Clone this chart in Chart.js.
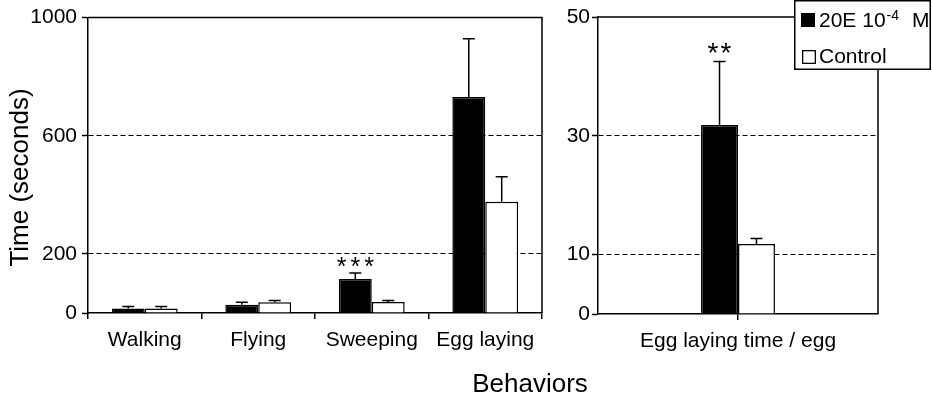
<!DOCTYPE html>
<html><head><meta charset="utf-8">
<script src="https://cdn.jsdelivr.net/npm/chart.js@4"></script>
<style>
html,body{margin:0;padding:0;background:#fff;}
#wrap{position:relative;width:932px;height:400px;overflow:hidden;background:#fff;}
canvas{position:absolute;top:0;}
</style></head><body>
<div id="wrap">
<canvas id="c1" width="932" height="400" style="left:0"></canvas>
<canvas id="c2" width="372" height="400" style="left:560px"></canvas>
</div>
<script>
const FONT = '"Liberation Sans", Arial, sans-serif';

// Left panel
const categories = ['Walking', 'Flying', 'Sweeping', 'Egg laying'];
const treated = [15, 28, 115, 731];
const treatedErr = [7, 8, 20, 197];
const control = [15, 36, 37, 377];
const controlErr = [7, 6, 5, 84];
const leftSig = ['', '', '***', ''];
const leftTicks = [0, 200, 600, 1000];

// Right panel
const rightCategories = ['Egg laying time / egg'];
const rightTreated = [31.8];
const rightTreatedErr = [10.7];
const rightControl = [11.8];
const rightControlErr = [0.9];
const rightSig = ['**'];
const rightTicks = [0, 10, 30, 50];

const seriesNames = ['20E 10-4 M', 'Control'];

Chart.defaults.font.family = FONT;
Chart.defaults.color = '#000';

function extras(errs, sigs, sigFont, sigSpacing, sigOffset) {
  return {
    id: 'extras',
    afterDatasetsDraw(chart) {
      const ctx = chart.ctx, y = chart.scales.y, a = chart.chartArea;
      ctx.save();
      ctx.strokeStyle = '#000';
      ctx.lineWidth = 1.5;
      chart.data.datasets.forEach((ds, di) => {
        const meta = chart.getDatasetMeta(di);
        meta.data.forEach((bar, i) => {
          const top = y.getPixelForValue(ds.data[i] + errs[di][i]);
          ctx.beginPath();
          ctx.moveTo(bar.x, bar.y);
          ctx.lineTo(bar.x, top);
          ctx.moveTo(bar.x - 6, top);
          ctx.lineTo(bar.x + 6, top);
          ctx.stroke();
          const s = sigs[di] && sigs[di][i];
          if (s) {
            ctx.fillStyle = '#000';
            ctx.font = sigFont + 'px ' + FONT;
            ctx.textAlign = 'center';
            ctx.textBaseline = 'alphabetic';
            try { ctx.letterSpacing = sigSpacing + 'px'; } catch (e) {}
            ctx.fillText(s, bar.x + sigSpacing / 2, top + sigOffset);
            try { ctx.letterSpacing = '0px'; } catch (e) {}
          }
        });
      });
      // frame top and right
      ctx.beginPath();
      ctx.moveTo(a.left, a.top);
      ctx.lineTo(a.right, a.top);
      ctx.lineTo(a.right, a.bottom);
      ctx.stroke();
      ctx.restore();
    }
  };
}

function makeOptions(ticksArr, yWidth, xHeight, padRight, catPct, xGridOffset, tickPad) {
  return {
    responsive: false,
    animation: false,
    layout: { padding: { left: 0, top: 17, right: padRight, bottom: 0 } },
    plugins: { legend: { display: false }, tooltip: { enabled: false } },
    scales: {
      x: {
        offset: true,
        grid: { offset: xGridOffset, drawOnChartArea: false, drawTicks: true, tickLength: 6, color: '#000', tickColor: '#000', lineWidth: 1.5 },
        border: { display: true, color: '#000', width: 1.5 },
        ticks: { font: { size: 21, family: FONT }, color: '#000', padding: 9, maxRotation: 0 },
        afterFit(s) { s.height = xHeight; }
      },
      y: {
        min: ticksArr[0], max: ticksArr[ticksArr.length - 1],
        afterBuildTicks(s) { s.ticks = ticksArr.map(v => ({ value: v })); },
        grid: {
          drawTicks: true, tickLength: 6, tickColor: '#000', tickWidth: 1.5, lineWidth: 1,
          color: c => (c.tick && (c.tick.value === ticksArr[0] || c.tick.value === ticksArr[ticksArr.length - 1])) ? 'rgba(0,0,0,0)' : '#000'
        },
        border: { display: true, color: '#000', width: 1.5, dash: [5, 3] },
        ticks: { font: { size: 21, family: FONT }, color: '#000', padding: tickPad, callback: v => String(v) },
        afterFit(s) { s.width = yWidth; }
      }
    },
    datasets: { bar: { categoryPercentage: catPct, barPercentage: 1.0 } }
  };
}

const leftTitles = {
  id: 'leftTitles',
  afterDraw(chart) {
    const ctx = chart.ctx;
    ctx.save();
    ctx.fillStyle = '#000';
    ctx.font = '26px ' + FONT;
    ctx.translate(20.5, 177.5);
    ctx.rotate(-Math.PI / 2);
    ctx.textAlign = 'center';
    ctx.textBaseline = 'middle';
    ctx.fillText('Time (seconds)', 0, 0);
    ctx.restore();
    ctx.save();
    ctx.fillStyle = '#000';
    ctx.font = '26px ' + FONT;
    ctx.textAlign = 'center';
    ctx.textBaseline = 'alphabetic';
    ctx.fillText('Behaviors', 530, 392);
    ctx.restore();
  }
};

const legendBox = {
  id: 'legendBox',
  afterDraw(chart) {
    const ctx = chart.ctx;
    const ox = 794 - 560;
    ctx.save();
    ctx.fillStyle = '#fff';
    ctx.fillRect(ox, 0, 372 - ox, 70);
    ctx.strokeStyle = '#000';
    ctx.lineWidth = 1.5;
    ctx.strokeRect(ox + 0.75, 0.75, 371 - ox - 1.5, 68.5);
    // black square
    ctx.fillStyle = '#000';
    ctx.fillRect(801 - 560, 13, 14, 14);
    // white square
    ctx.lineWidth = 1.3;
    ctx.strokeRect(802 - 560 + 0.65, 50 + 0.65, 12.7, 12.7);
    ctx.fillStyle = '#000';
    ctx.textAlign = 'left';
    ctx.textBaseline = 'alphabetic';
    ctx.font = '21px ' + FONT;
    const base = '20E 10';
    ctx.fillText(base, 819 - 560, 27);
    const w = ctx.measureText(base).width;
    ctx.font = '14px ' + FONT;
    ctx.fillText('-4', 819 - 560 + w + 1, 20);
    ctx.font = '21px ' + FONT;
    ctx.fillText('M', 912 - 560, 27);
    ctx.fillText(seriesNames[1], 819 - 560, 63);
    ctx.restore();
  }
};

new Chart(document.getElementById('c1'), {
  type: 'bar',
  data: {
    labels: categories,
    datasets: [
      { label: seriesNames[0], data: treated, backgroundColor: '#000', borderColor: '#000', borderWidth: 1.5 },
      { label: seriesNames[1], data: control, backgroundColor: '#fff', borderColor: '#000', borderWidth: 1.5 }
    ]
  },
  options: makeOptions(leftTicks, 88, 400 - 313, 932 - 542, 0.58, true, 5),
  plugins: [extras([treatedErr, controlErr], [leftSig, []], 25, 4, 2), leftTitles]
});

new Chart(document.getElementById('c2'), {
  type: 'bar',
  data: {
    labels: rightCategories,
    datasets: [
      { label: seriesNames[0], data: rightTreated, backgroundColor: '#000', borderColor: '#000', borderWidth: 1.5 },
      { label: seriesNames[1], data: rightControl, backgroundColor: '#fff', borderColor: '#000', borderWidth: 1.5 }
    ]
  },
  options: makeOptions(rightTicks, 38, 400 - 314, 372 - 318, 0.264, false, 2),
  plugins: [extras([rightTreatedErr, rightControlErr], [rightSig, []], 28, 2, 0), legendBox]
});
</script>
</body></html>
